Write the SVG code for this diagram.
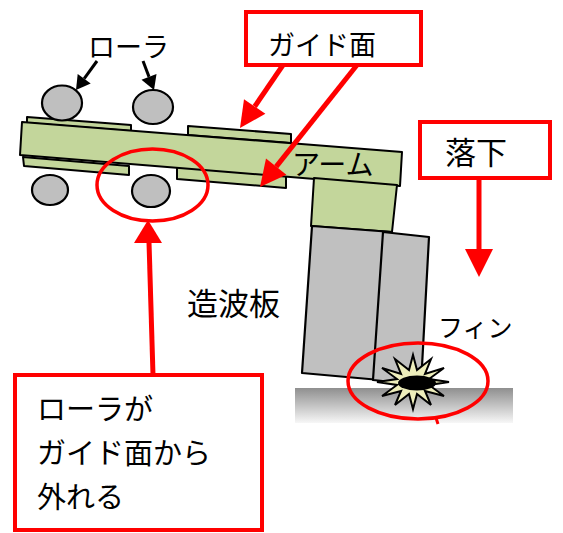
<svg xmlns="http://www.w3.org/2000/svg" width="563" height="533" viewBox="0 0 563 533">
  <defs>
    <linearGradient id="groundShade" x1="0" y1="0" x2="0" y2="1">
      <stop offset="0" stop-color="#8f8f8f"/>
      <stop offset="1" stop-color="#f7f7f7"/>
    </linearGradient>
  </defs>
  <style>
    text { font-family: "Noto Sans CJK JP", "Noto Sans", sans-serif; fill: #000; }
    .arm { fill: #c3d69b; stroke: #000; stroke-width: 2; stroke-linejoin: round; }
    .plate { fill: #c0c0c0; stroke: #000; stroke-width: 2.2; stroke-linejoin: round; }
    .roller { fill: #bfbfbf; stroke: #000; stroke-width: 2.2; }
    .callout { fill: #fff; stroke: #ff0000; stroke-width: 4; }
    .red-line { fill: none; stroke: #ff0000; stroke-width: 5; }
    .red-head { fill: #ff0000; stroke: none; }
    .ring { fill: none; stroke: #ff0000; stroke-width: 3.5; }
    .blk-line { fill: none; stroke: #000; stroke-width: 3; }
    .blk-head { fill: #000; }
  </style>

  <!-- ground -->
  <rect id="ground" x="295" y="388" width="218" height="35" fill="url(#groundShade)"/>

  <!-- arm with guide plates -->
  <g id="arm">
    <polygon class="arm" points="27,117 131,125 131,131 27,123"/>
    <polygon class="arm" points="188,126 291,134 291,143 188,135"/>
    <polygon class="arm" points="23,157 129,166 129,175 24,166"/>
    <polygon class="arm" points="177,167 286,176 286,188 177,179"/>
    <polygon class="arm" points="22,122 402,152 400,186 20,155"/>
    <polygon class="arm" points="314,178 397,185 392,232 311,226"/>
    <text x="292" y="175" font-size="28">アーム</text>
  </g>

  <!-- rollers -->
  <g id="rollers">
    <ellipse class="roller" cx="62" cy="103" rx="20" ry="17.5"/>
    <ellipse class="roller" cx="153" cy="107" rx="20" ry="17"/>
    <ellipse class="roller" cx="50" cy="190" rx="18" ry="15"/>
    <ellipse class="roller" cx="151" cy="191" rx="19" ry="16"/>
  </g>

  <!-- wave plate and fin -->
  <g id="wave-plate">
    <polygon class="plate" points="312,226 392,232 380,380 302,373"/>
    <polygon class="plate" points="383,232 429,237 421,385 373,380"/>
  </g>

  <!-- impact burst -->
  <g id="impact">
    <polygon fill="#eeeebb" stroke="#000" stroke-width="2" stroke-linejoin="miter"
      points="449,382 429,385 444,396 425,391 431,405 417,394 413,409 409,394 395,405 401,391 382,396 397,385 377,382 397,379 382,368 401,374 395,359 409,370 413,355 417,370 431,359 425,374 444,368 429,379"/>
    <ellipse cx="417" cy="383" rx="19" ry="7.5" fill="#000"/>
  </g>

  <!-- labels -->
  <g id="label-roller">
    <text x="88" y="57" font-size="27">ローラ</text>
  </g>
  <g id="label-wave-plate">
    <text x="187" y="315" font-size="31">造波板</text>
  </g>
  <g id="label-fin">
    <text x="438" y="337" font-size="25">フィン</text>
  </g>

  <!-- callout boxes -->
  <g id="box-guide">
    <rect class="callout" x="246" y="12" width="175" height="53"/>
    <text x="268" y="55" font-size="27">ガイド面</text>
  </g>
  <g id="box-drop">
    <rect class="callout" x="420" y="122" width="130" height="56"/>
    <text x="445" y="164" font-size="31">落下</text>
  </g>
  <g id="box-derail">
    <rect class="callout" x="15" y="375" width="247" height="155"/>
    <text x="37" y="420" font-size="29">ローラが</text>
    <text x="37" y="464" font-size="29">ガイド面から</text>
    <text x="37" y="508" font-size="29">外れる</text>
  </g>

  <!-- connectors -->
  <g id="connectors">
    <line class="blk-line" x1="97" y1="61" x2="84.2" y2="78.7"/>
    <polygon class="blk-head" points="76,90 90.7,83.4 77.7,74"/>
    <line class="blk-line" x1="143" y1="61" x2="149" y2="76.9"/>
    <polygon class="blk-head" points="154,90 156.5,74.1 141.5,79.7"/>

    <line class="red-line" x1="283" y1="65" x2="254.7" y2="106.5"/>
    <polygon class="red-head" points="240,128 265.4,113.8 244,99.2"/>
    <line class="red-line" x1="357" y1="65" x2="276.2" y2="166.6"/>
    <polygon class="red-head" points="260,187 286.4,174.7 266,158.5"/>
    <line class="red-line" x1="479" y1="178" x2="479" y2="250"/>
    <polygon class="red-head" points="465,249 493,249 479,277"/>
    <line class="red-line" x1="153" y1="375" x2="149" y2="242"/>
    <polygon class="red-head" points="148,220 134,243 162,243"/>

    <ellipse class="ring" cx="152.5" cy="185" rx="55.5" ry="36"/>
    <ellipse class="ring" cx="418" cy="381" rx="70" ry="38"/>
    <line stroke="#ff0000" stroke-width="3" x1="436" y1="418" x2="438" y2="424"/>
  </g>
</svg>
